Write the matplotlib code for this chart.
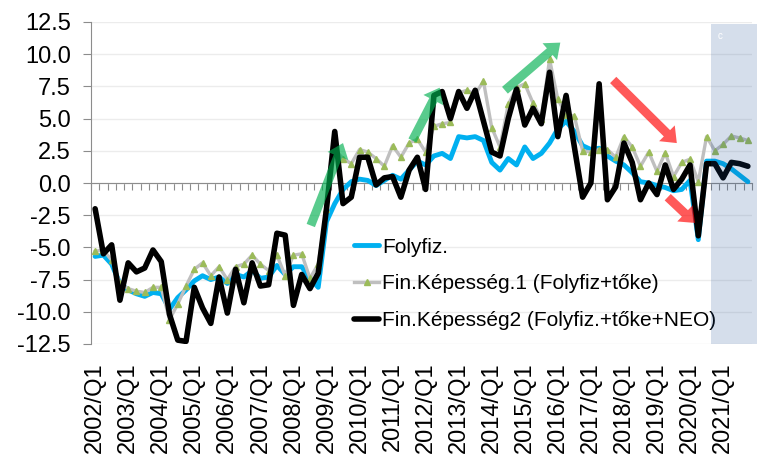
import matplotlib
matplotlib.use("Agg")
import matplotlib.pyplot as plt
import numpy as np

plt.rcParams["font.family"] = ["Liberation Sans", "DejaVu Sans"]

# quarterly data 2002/Q1 .. 2021/Q4
years = list(range(2002, 2022))
quarters = [f"{y}/Q{q}" for y in years for q in range(1, 5)]

folyfiz = [-5.7, -5.6, -6.3, -7.8, -8.3, -8.6, -8.8, -8.5, -8.6, -9.8,
           -8.9, -8.3, -7.6, -7.2, -7.5, -7.3, -7.8, -7.1, -7.3, -6.8,
           -7.4, -7.3, -6.4, -7.1, -6.5, -6.5, -7.4, -8.1, -3.0, -1.6,
           -0.5, 0.1, 0.3, 0.2, -0.2, 0.2, 0.6, 0.3, 1.0, 1.7,
           1.4, 2.1, 2.3, 1.9, 3.6, 3.5, 3.6, 3.3, 1.6, 1.0,
           1.9, 1.4, 2.8, 1.9, 2.3, 3.1, 4.2, 4.8, 4.0, 2.9,
           2.6, 2.7, 2.1, 1.7, 1.4, 0.8, 0.1, 0.0, -0.2, -0.35,
           -0.6, -0.5, 0.2, -4.4, 1.7, 1.7, 1.5, 1.1, 0.6, 0.1]

fin1 = [-5.3, -5.2, -6.0, -7.8, -8.2, -8.4, -8.5, -8.1, -8.1, -10.6,
        -9.4, -8.0, -6.7, -6.2, -7.2, -6.5, -7.5, -6.5, -6.3, -5.6,
        -6.3, -6.8, -5.6, -7.2, -5.6, -5.5, -7.4, -6.3, -2.0, 2.6,
        1.9, 1.5, 2.6, 2.4, 1.9, 1.3, 2.9, 2.0, 3.1, 3.4,
        2.4, 4.4, 4.6, 4.7, 7.0, 7.2, 6.9, 7.9, 4.3, 2.8,
        6.1, 7.4, 7.7, 6.2, 5.0, 9.6, 6.5, 5.3, 5.2, 2.5,
        2.4, 2.6, 2.6, 2.0, 3.6, 2.8, 1.3, 2.4, 0.9, 2.35,
        0.5, 1.6, 1.85, 0.1, 3.6, 2.5, 3.0, 3.65, 3.5, 3.3]

fin2 = [-2.0, -5.5, -4.8, -9.1, -6.2, -6.9, -6.6, -5.2, -6.1, -10.2,
        -12.2, -12.3, -8.1, -9.7, -10.9, -7.3, -10.1, -6.7, -9.3, -6.2,
        -8.0, -7.9, -3.9, -4.05, -9.5, -7.1, -8.2, -7.0, -2.0, 4.0,
        -1.6, -1.1, 2.0, 2.0, -0.15, 0.4, 0.5, -1.1, 1.0, 2.0,
        -0.5, 6.8, 7.1, 5.0, 7.1, 5.8, 7.2, 4.8, 2.4, 2.1,
        5.0, 7.3, 4.5, 5.8, 4.6, 8.6, 3.6, 6.8, 2.8, -1.1,
        0.0, 7.7, -1.3, -0.3, 3.1, 1.6, -1.3, 0.0, -0.9, 1.4,
        -0.5, 0.3, 1.4, -4.1, 1.5, 1.5, 0.4, 1.6, 1.5, 1.3]

labels = ["Folyfiz.", "Fin.Képesség.1 (Folyfiz+tőke)",
          "Fin.Képesség2 (Folyfiz.+tőke+NEO)"]
y_ticks = [-12.5, -10.0, -7.5, -5.0, -2.5, 0.0, 2.5, 5.0, 7.5, 10.0, 12.5]

# trend arrows: (tail quarter, tail value, tip quarter, tip value)
green_arrows = [(26.1, -3.3, 30.0, 3.1), (38.4, 3.3, 41.7, 7.4), (49.6, 7.2, 56.3, 10.9)]
red_arrows = [(62.7, 8.0, 70.4, 3.1), (69.3, -1.1, 72.6, -3.1)]
shade_start = 74.5

x = np.arange(len(quarters))

fig = plt.figure(figsize=(7.58, 4.57), dpi=100)
ax = fig.add_axes([91 / 758, 1 - 344 / 457, 661 / 758, 322 / 457])

ax.set_xlim(-0.5, len(quarters) - 0.5)
ax.set_ylim(-12.5, 12.5)
ax.set_yticks(y_ticks)
ax.set_yticklabels([f"{v:.1f}" for v in y_ticks])
ax.yaxis.grid(True, color="#ececec", lw=1)
ax.set_axisbelow(True)

ax.plot(x, folyfiz, color="#00b0f0", lw=3.5, solid_joinstyle="round",
        solid_capstyle="round", label=labels[0], zorder=3)
ax.plot(x, fin1, color="#bfbfbf", lw=2.4, marker="^", markersize=4.5,
        markerfacecolor="#9bbb59", markeredgecolor="#9bbb59",
        solid_joinstyle="round", label=labels[1], zorder=4)
ax.plot(x, fin2, color="black", lw=4, solid_joinstyle="round",
        solid_capstyle="round", label=labels[2], zorder=5)

# shaded forecast area
ax.axvspan(shade_start, len(quarters) + 0.1, ymin=0, ymax=0.995,
           color="#1b4d95", alpha=0.18, lw=0, zorder=6, clip_on=False)
ax.text(shade_start + 1.1, 11.4, "c", color="white", fontsize=7,
        ha="center", va="center", zorder=7)

style = "simple,head_length=0.5,head_width=0.8,tail_width=0.32"
for x0, y0, x1, y1 in green_arrows:
    ax.annotate("", xy=(x1, y1), xytext=(x0, y0), zorder=8,
                arrowprops=dict(arrowstyle=style, mutation_scale=20, color="#00b050",
                                alpha=0.65, lw=0, shrinkA=0, shrinkB=0))
for x0, y0, x1, y1 in red_arrows:
    ax.annotate("", xy=(x1, y1), xytext=(x0, y0), zorder=8,
                arrowprops=dict(arrowstyle=style, mutation_scale=20, color="#ff0000",
                                alpha=0.65, lw=0, shrinkA=0, shrinkB=0))

# axes styling
for s in ["top", "right"]:
    ax.spines[s].set_visible(False)
ax.spines["bottom"].set_position(("data", 0))
ax.spines["bottom"].set_color("#8c8c8c")
ax.spines["left"].set_color("#8c8c8c")
ax.set_xticks(np.arange(-0.5, len(quarters), 1))
ax.tick_params(axis="x", direction="out", length=5, color="#8c8c8c", labelbottom=False)
ax.tick_params(axis="y", direction="out", length=5.5, color="#8c8c8c", pad=9, labelsize=17)

sec = ax.secondary_xaxis("bottom")
sec.set_xticks(x[::4], quarters[::4])
sec.spines["bottom"].set_visible(False)
sec.tick_params(length=0, pad=13, labelsize=17, labelrotation=90)

ax.legend(loc="upper left", bbox_to_anchor=(0.398, 0.33), frameon=False,
          fontsize=15, handlelength=1.2, handletextpad=0.15, labelspacing=0.85,
          borderpad=0, borderaxespad=0, numpoints=1)

fig.savefig("out.png", dpi=100)
